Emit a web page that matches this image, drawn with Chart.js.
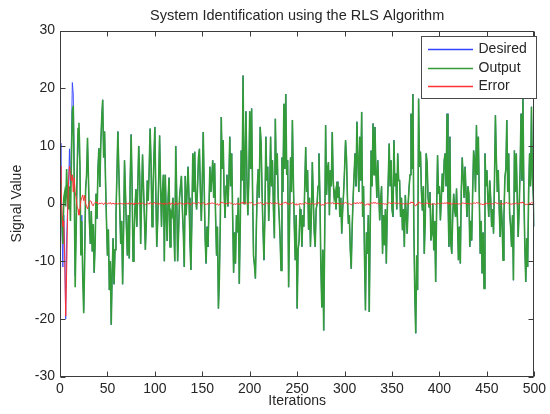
<!DOCTYPE html>
<html><head><meta charset="utf-8">
<script src="https://cdn.jsdelivr.net/npm/chart.js@4/dist/chart.umd.min.js"></script>
<style>html,body{margin:0;padding:0;background:#fff;}#wrap{width:550px;height:414px;}</style>
</head><body><div id="wrap"><canvas id="c" width="550" height="414"></canvas></div>
<script>
const titleText = 'System Identification using the RLS Algorithm';
const xLabel = 'Iterations';
const yLabel = 'Signal Value';
const seriesNames = ['Desired', 'Output', 'Error'];
const xTicks = [0, 50, 100, 150, 200, 250, 300, 350, 400, 450, 500];
const yTicks = [-30, -20, -10, 0, 10, 20, 30];

const desired = [
10.5,2.0,-4.0,-11.0,-2.0,-8.0,-20.0,-6.0,-1.0,3.0,
9.5,2.0,11.0,21.0,19.0,7.5,-12.5,-4.0,4.5,12.0,
12.0,6.5,-8.5,-2.0,-11.5,-18.5,-8.5,2.5,4.5,10.5,
4.3,-3.2,-7.0,-1.3,-8.3,-3.6,-12.0,-7.2,1.7,-2.6,
6.0,9.6,2.9,10.5,14.9,18.0,8.0,12.5,4.0,-3.0,
-9.0,-4.5,-15.0,-10.0,-21.0,-12.0,-6.0,-14.0,-8.0,-2.0,
5.0,12.5,6.0,-1.0,-7.0,-3.0,-14.0,-5.0,7.5,2.0,
-4.0,-9.0,-2.0,-9.5,4.0,12.0,3.0,-10.0,-6.0,-1.0,
2.5,-4.0,3.0,10.0,5.0,-7.0,1.0,8.5,3.0,-2.5,
-8.0,-3.0,4.0,0.5,6.0,13.0,7.0,-4.0,1.5,8.0,
13.3,2.0,-7.5,-3.0,4.0,11.8,3.5,-4.0,2.0,5.0,
-10.0,5.0,-2.0,-6.5,1.0,4.5,-7.5,-1.5,-2.0,1.0,
-4.0,-10.0,10.0,2.0,-10.0,-5.0,1.0,3.0,4.8,-1.0,
-5.0,-11.0,4.8,-2.0,2.0,6.4,1.0,-6.5,-11.5,-3.0,
8.7,2.0,9.0,1.0,-1.0,3.0,8.0,9.5,2.0,-3.0,
4.0,12.4,3.0,-6.0,-10.4,-4.0,-7.5,-1.0,6.4,2.0,
4.5,7.5,1.0,7.0,-2.0,-9.0,-4.0,-18.2,-13.0,-3.0,
15.0,6.0,11.0,2.0,-2.5,3.0,5.0,-0.5,4.0,11.6,
3.0,8.7,-2.0,-12.0,-5.0,-10.4,-2.0,-5.0,1.0,-13.9,
-4.0,9.2,4.0,22.2,0.0,7.0,16.0,5.0,-2.0,4.0,
16.0,6.0,16.5,2.0,-9.0,-10.7,-13.0,-4.0,3.0,6.0,
1.0,13.3,10.5,2.0,-4.5,-9.8,-2.0,11.6,4.0,6.4,
-3.0,2.0,11.6,3.0,7.5,-1.0,-6.0,14.7,5.0,8.7,
1.0,-2.0,-6.0,-11.6,8.0,2.0,17.3,6.0,19.0,5.0,
7.5,-14.5,-3.0,8.0,2.0,14.5,4.0,-4.0,-9.8,-2.0,
-18.2,-8.0,-6.5,-1.0,-1.8,-7.5,-2.0,-4.0,3.0,9.8,
2.0,5.8,-4.5,1.0,-7.5,-2.0,7.2,1.0,-5.0,-7.5,
-1.0,0.0,3.0,8.7,1.0,-11.0,-18.0,-8.0,-22.0,-6.0,
13.6,1.5,6.0,7.2,-2.0,5.8,3.0,12.4,4.0,1.0,
2.0,-1.0,3.8,1.0,2.9,-2.3,1.0,-5.2,-1.0,2.0,
6.0,11.0,8.0,1.0,-3.5,-2.0,-8.0,-11.3,-4.0,1.0,
5.0,8.7,3.0,14.2,7.5,2.0,11.6,4.0,15.9,-2.3,
3.0,-9.2,-18.5,-5.0,-8.7,-2.0,-18.8,-4.0,9.2,3.0,
13.9,5.0,13.3,5.8,1.0,7.5,2.0,-2.9,0.6,3.0,
-8.7,-2.0,-7.2,-1.0,-10.4,-1.2,4.0,10.4,3.0,7.5,
-1.0,-2.3,11.0,3.0,5.2,-1.0,8.7,4.0,4.0,-2.3,
1.0,-4.6,-1.0,-7.5,1.5,-2.0,-5.2,0.0,2.9,5.0,
15.6,6.0,19.0,-4.0,-15.6,-22.5,-9.0,-15.0,18.2,6.4,
9.0,2.0,-1.2,3.0,-8.7,-3.0,8.7,7.0,1.0,-0.6,
2.0,-6.4,-5.2,0.0,-8.1,-3.0,-13.6,-1.0,8.4,1.7,
3.0,-2.9,1.0,5.2,2.0,7.5,8.7,3.0,15.6,1.0,
-7.5,11.6,-6.9,-8.7,-2.0,1.7,-1.0,-2.3,2.6,-3.0,
-9.8,-4.0,-10.4,2.0,8.0,4.6,1.0,6.4,2.0,-2.3,
3.0,1.7,-7.5,-3.0,-6.4,2.0,9.2,7.5,2.0,13.6,
5.0,11.6,1.0,-8.7,-3.0,-12.1,-5.0,-14.7,8.7,3.0,
5.8,1.0,-2.3,4.0,1.0,-4.0,-1.0,-5.2,4.0,15.3,
7.5,2.0,5.8,-1.0,-5.8,0.6,-3.0,-9.8,-2.0,4.6,
6.0,14.5,2.0,8.7,-1.7,-4.0,-7.5,-2.0,-13.3,9.2,
2.0,8.7,1.0,-5.8,-1.0,5.8,15.6,4.0,18.2,2.0,
-7.5,-13.6,-6.0,-11.0,2.0,8.7,3.0,16.8,4.6,1.0,
-4.0];

const output = [
4.0,-1.5,-3.0,-7.0,1.0,2.0,-0.5,6.0,1.0,-1.0,
3.0,-3.0,7.0,16.0,17.0,3.0,-14.5,-5.0,5.0,13.0,
14.0,7.5,-9.0,-3.0,-13.0,-19.0,-9.9,2.5,5.0,11.4,
4.3,-3.2,-7.0,-1.3,-8.3,-3.6,-12.0,-7.2,1.7,-2.6,
6.0,9.6,2.9,10.5,14.9,18.0,8.0,12.5,4.0,-3.0,
-9.0,-4.5,-15.0,-10.0,-21.0,-12.0,-6.0,-14.0,-8.0,-2.0,
5.0,12.5,6.0,-1.0,-7.0,-3.0,-14.0,-5.0,7.5,2.0,
-4.0,-9.0,-2.0,-9.5,4.0,12.0,3.0,-10.0,-6.0,-1.0,
2.5,-4.0,3.0,10.0,5.0,-7.0,1.0,8.5,3.0,-2.5,
-8.0,-3.0,4.0,0.5,6.0,13.0,7.0,-4.0,1.5,8.0,
13.3,2.0,-7.5,-3.0,4.0,11.8,3.5,-4.0,2.0,5.0,
-10.0,5.0,-2.0,-6.5,1.0,4.5,-7.5,-1.5,-2.0,1.0,
-4.0,-10.0,10.0,2.0,-10.0,-5.0,1.0,3.0,4.8,-1.0,
-5.0,-11.0,4.8,-2.0,2.0,6.4,1.0,-6.5,-11.5,-3.0,
8.7,2.0,9.0,1.0,-1.0,3.0,8.0,9.5,2.0,-3.0,
4.0,12.4,3.0,-6.0,-10.4,-4.0,-7.5,-1.0,6.4,2.0,
4.5,7.5,1.0,7.0,-2.0,-9.0,-4.0,-18.2,-13.0,-3.0,
15.0,6.0,11.0,2.0,-2.5,3.0,5.0,-0.5,4.0,11.6,
3.0,8.7,-2.0,-12.0,-5.0,-10.4,-2.0,-5.0,1.0,-13.9,
-4.0,9.2,4.0,22.2,0.0,7.0,16.0,5.0,-2.0,4.0,
16.0,6.0,16.5,2.0,-9.0,-10.7,-13.0,-4.0,3.0,6.0,
1.0,13.3,10.5,2.0,-4.5,-9.8,-2.0,11.6,4.0,6.4,
-3.0,2.0,11.6,3.0,7.5,-1.0,-6.0,14.7,5.0,8.7,
1.0,-2.0,-6.0,-11.6,8.0,2.0,17.3,6.0,19.0,5.0,
7.5,-14.5,-3.0,8.0,2.0,14.5,4.0,-4.0,-9.8,-2.0,
-18.2,-8.0,-6.5,-1.0,-1.8,-7.5,-2.0,-4.0,3.0,9.8,
2.0,5.8,-4.5,1.0,-7.5,-2.0,7.2,1.0,-5.0,-7.5,
-1.0,0.0,3.0,8.7,1.0,-11.0,-18.0,-8.0,-22.0,-6.0,
13.6,1.5,6.0,7.2,-2.0,5.8,3.0,12.4,4.0,1.0,
2.0,-1.0,3.8,1.0,2.9,-2.3,1.0,-5.2,-1.0,2.0,
6.0,11.0,8.0,1.0,-3.5,-2.0,-8.0,-11.3,-4.0,1.0,
5.0,8.7,3.0,14.2,7.5,2.0,11.6,4.0,15.9,-2.3,
3.0,-9.2,-18.5,-5.0,-8.7,-2.0,-18.8,-4.0,9.2,3.0,
13.9,5.0,13.3,5.8,1.0,7.5,2.0,-2.9,0.6,3.0,
-8.7,-2.0,-7.2,-1.0,-10.4,-1.2,4.0,10.4,3.0,7.5,
-1.0,-2.3,11.0,3.0,5.2,-1.0,8.7,4.0,4.0,-2.3,
1.0,-4.6,-1.0,-7.5,1.5,-2.0,-5.2,0.0,2.9,5.0,
15.6,6.0,19.0,-4.0,-15.6,-22.5,-9.0,-15.0,18.2,6.4,
9.0,2.0,-1.2,3.0,-8.7,-3.0,8.7,7.0,1.0,-0.6,
2.0,-6.4,-5.2,0.0,-8.1,-3.0,-13.6,-1.0,8.4,1.7,
3.0,-2.9,1.0,5.2,2.0,7.5,8.7,3.0,15.6,1.0,
-7.5,11.6,-6.9,-8.7,-2.0,1.7,-1.0,-2.3,2.6,-3.0,
-9.8,-4.0,-10.4,2.0,8.0,4.6,1.0,6.4,2.0,-2.3,
3.0,1.7,-7.5,-3.0,-6.4,2.0,9.2,7.5,2.0,13.6,
5.0,11.6,1.0,-8.7,-3.0,-12.1,-5.0,-14.7,8.7,3.0,
5.8,1.0,-2.3,4.0,1.0,-4.0,-1.0,-5.2,4.0,15.3,
7.5,2.0,5.8,-1.0,-5.8,0.6,-3.0,-9.8,-2.0,4.6,
6.0,14.5,2.0,8.7,-1.7,-4.0,-7.5,-2.0,-13.3,9.2,
2.0,8.7,1.0,-5.8,-1.0,5.8,15.6,4.0,18.2,2.0,
-7.5,-13.6,-6.0,-11.0,2.0,8.7,3.0,16.8,4.6,1.0,
-4.0];

const error = [
6.5,3.5,-1.0,-4.0,-3.0,-10.0,-19.5,-12.0,-2.0,4.0,
6.5,5.0,4.0,5.0,2.0,4.5,2.0,1.0,-0.5,-1.0,
-2.0,-1.0,0.5,1.0,1.5,0.5,1.4,0.0,-0.5,-0.9,
-0.3,0.2,0.5,0.3,-0.2,-0.4,0.0,0.2,0.3,0.1,
0.0,-0.1,0.1,0.0,0.1,0.0,-0.2,0.1,0.2,0.0,
-0.1,0.1,0.0,0.2,-0.1,0.0,0.1,-0.1,0.0,0.1,
0.0,-0.1,0.0,0.1,0.0,0.0,-0.1,0.1,0.0,-0.1,
0.1,0.0,-0.1,0.2,0.0,-0.1,0.1,0.0,-0.2,0.1,
0.0,0.1,-0.1,0.0,0.2,-0.1,0.0,0.1,0.0,-0.1,
-0.2,0.0,0.1,0.0,-0.1,0.2,0.0,-0.1,0.0,0.1,
0.2,-0.1,0.0,0.1,-0.2,0.0,0.1,0.0,-0.1,0.1,
-0.2,0.1,0.0,-0.1,0.0,0.2,-0.1,0.0,0.1,0.0,
-0.1,-0.2,0.2,0.0,-0.2,0.1,0.0,0.1,0.0,-0.1,
0.0,-0.2,0.1,0.0,0.1,0.1,0.0,-0.1,-0.2,0.0,
0.2,0.0,0.1,0.0,-0.1,0.0,0.2,0.1,0.0,-0.1,
0.0,0.2,0.0,-0.1,-0.2,0.0,-0.1,0.0,0.1,0.0,
0.1,0.1,0.0,0.1,0.0,-0.2,0.0,-0.3,-0.2,0.0,
0.3,0.1,0.2,0.0,-0.1,0.0,0.1,0.0,0.0,0.2,
0.0,0.1,-0.1,-0.2,0.0,-0.2,0.0,-0.1,0.1,-0.2,
0.0,0.2,0.0,0.3,0.0,0.1,0.2,0.0,-0.1,0.0,
0.2,0.1,0.2,0.0,-0.2,-0.2,-0.2,0.0,0.1,0.1,
0.0,0.2,0.1,0.0,-0.1,-0.2,0.0,0.2,0.0,0.1,
-0.1,0.0,0.2,0.0,0.1,0.0,-0.1,0.2,0.0,0.1,
0.0,-0.1,-0.1,-0.2,0.1,0.0,0.2,0.1,0.3,0.0,
0.1,-0.2,0.0,0.1,0.0,0.2,0.0,-0.1,-0.2,0.0,
-0.3,-0.1,-0.1,0.0,0.0,-0.1,0.0,-0.1,0.0,0.2,
0.0,0.1,-0.1,0.0,-0.1,0.0,0.1,0.0,-0.1,-0.1,
0.0,0.0,0.1,0.2,0.0,-0.2,-0.3,-0.1,-0.3,-0.1,
0.2,0.0,0.1,0.1,0.0,0.1,0.0,0.2,0.0,0.0,
0.0,0.0,0.1,0.0,0.0,-0.1,0.0,-0.1,0.0,0.0,
0.1,0.2,0.1,0.0,-0.1,0.0,-0.1,-0.2,-0.1,0.0,
0.1,0.1,0.0,0.2,0.1,0.0,0.2,0.0,0.3,0.0,
0.0,-0.2,-0.3,-0.1,-0.1,0.0,-0.3,0.0,0.2,0.0,
0.2,0.1,0.2,0.1,0.0,0.1,0.0,-0.1,0.0,0.0,
-0.1,0.0,-0.1,0.0,-0.2,0.0,0.1,0.2,0.0,0.1,
0.0,0.0,0.2,0.0,0.1,0.0,0.1,0.0,0.1,0.0,
0.0,-0.1,0.0,-0.1,0.0,0.0,-0.1,0.0,0.0,0.1,
0.3,0.1,0.3,-0.1,-0.3,-0.4,-0.1,-0.2,0.3,0.1,
0.1,0.0,0.0,0.0,-0.1,0.0,0.1,0.1,0.0,0.0,
0.0,-0.1,-0.1,0.0,-0.1,0.0,-0.2,0.0,0.1,0.0,
0.0,0.0,0.0,0.1,0.0,0.1,0.1,0.0,0.2,0.0,
-0.1,0.2,-0.1,-0.1,0.0,0.0,0.0,0.0,0.0,0.0,
-0.1,0.0,-0.2,0.0,0.1,0.1,0.0,0.1,0.0,0.0,
0.0,0.0,-0.1,0.0,-0.1,0.0,0.1,0.1,0.0,0.2,
0.1,0.2,0.0,-0.1,0.0,-0.2,-0.1,-0.2,0.1,0.0,
0.1,0.0,0.0,0.1,0.0,-0.1,0.0,-0.1,0.0,0.2,
0.1,0.0,0.1,0.0,-0.1,0.0,0.0,-0.1,0.0,0.1,
0.1,0.2,0.0,0.1,0.0,-0.1,-0.1,0.0,-0.2,0.1,
0.0,0.1,0.0,-0.1,0.0,0.1,0.2,0.1,0.3,0.0,
-0.1,-0.2,-0.1,-0.2,0.0,0.1,0.0,0.2,0.1,0.0,
0.0];

const iterations = output.map((_, i) => i);

const FONT = "'Liberation Sans', Arial, Helvetica, sans-serif";
const TEXT = '#262626';
const COLORS = { Desired: '#3344ff', Output: '#339c38', Error: '#ff3333' };
const WIDTHS = { Desired: 0.9, Output: 1.6, Error: 1 };
const ORDER = { Error: 0, Output: 1, Desired: 2 };

const framePlugin = {
  id: 'matlabFrame',
  afterDatasetsDraw(chart) {
    const { ctx, chartArea: a, scales } = chart;
    const L = Math.round(a.left) + 0.5, R = Math.round(a.right) - 0.5;
    const T = Math.round(a.top) + 0.5, B = Math.round(a.bottom) - 0.5;
    ctx.save();
    ctx.strokeStyle = '#3c3c3c';
    ctx.lineWidth = 1;
    ctx.strokeRect(L, T, R - L, B - T);
    ctx.beginPath();
    xTicks.forEach(v => {
      const px = Math.round(scales.x.getPixelForValue(v)) + 0.5;
      ctx.moveTo(px, B); ctx.lineTo(px, B - 5);
      ctx.moveTo(px, T); ctx.lineTo(px, T + 5);
    });
    yTicks.forEach(v => {
      const py = Math.round(scales.y.getPixelForValue(v)) + 0.5;
      ctx.moveTo(L, py); ctx.lineTo(L + 5, py);
      ctx.moveTo(R, py); ctx.lineTo(R - 5, py);
    });
    ctx.stroke();
    // legend box (MATLAB style, top-right inside axes)
    const bx = 421.5, by = 36.5, bw = 115, bh = 62;
    ctx.fillStyle = '#ffffff';
    ctx.fillRect(bx, by, bw, bh);
    ctx.strokeStyle = '#4a4a4a';
    ctx.lineWidth = 1;
    ctx.strokeRect(bx, by, bw, bh);
    ctx.font = '14px ' + FONT;
    ctx.textBaseline = 'middle';
    ctx.textAlign = 'left';
    seriesNames.forEach((name, i) => {
      const yy = Math.round(by + 12.5 + i * 18.7) + 0.5;
      ctx.strokeStyle = COLORS[name];
      ctx.lineWidth = 1.3;
      ctx.beginPath();
      ctx.moveTo(bx + 6.5, yy); ctx.lineTo(bx + 51.5, yy);
      ctx.stroke();
      ctx.fillStyle = TEXT;
      ctx.fillText(name, bx + 57, yy);
    });
    ctx.restore();
  }
};

const mk = (name, data) => ({
  label: name, data, order: ORDER[name],
  borderColor: COLORS[name], backgroundColor: COLORS[name],
  borderWidth: WIDTHS[name], pointRadius: 0, pointHoverRadius: 0, tension: 0, fill: false
});

new Chart(document.getElementById('c'), {
  type: 'line',
  data: {
    labels: iterations,
    datasets: [mk('Desired', desired), mk('Output', output), mk('Error', error)]
  },
  options: {
    responsive: false,
    animation: false,
    devicePixelRatio: 1,
    events: [],
    layout: { padding: { left: 0, right: 12, top: 0, bottom: 0 } },
    plugins: {
      legend: { display: false },
      tooltip: { enabled: false },
      title: {
        display: true, text: titleText, fullSize: false, color: TEXT,
        font: { family: FONT, size: 14.5, weight: 'normal', lineHeight: 1.2 },
        padding: { top: 7.3, bottom: 5.9 }
      }
    },
    scales: {
      x: {
        type: 'linear', min: 0, max: 500,
        afterBuildTicks: s => { s.ticks = xTicks.map(v => ({ value: v })); },
        afterFit: s => { s.height = 37.4; },
        ticks: { autoSkip: false, maxRotation: 0, padding: 4, color: TEXT, font: { family: FONT, size: 14 } },
        grid: { display: false, drawTicks: false, tickLength: 0 },
        border: { display: false },
        title: { display: true, text: xLabel, color: TEXT, font: { family: FONT, size: 14 }, padding: { top: 0, bottom: 4.6 } }
      },
      y: {
        type: 'linear', min: -30, max: 30,
        afterBuildTicks: s => { s.ticks = yTicks.map(v => ({ value: v })); },
        afterFit: s => { s.width = 60; },
        ticks: { autoSkip: false, padding: 5, color: TEXT, font: { family: FONT, size: 14 } },
        grid: { display: false, drawTicks: false, tickLength: 0 },
        border: { display: false },
        title: { display: true, text: yLabel, color: TEXT, font: { family: FONT, size: 14 }, padding: { top: 8.6, bottom: 0 } }
      }
    }
  },
  plugins: [framePlugin]
});
</script>
</body></html>
